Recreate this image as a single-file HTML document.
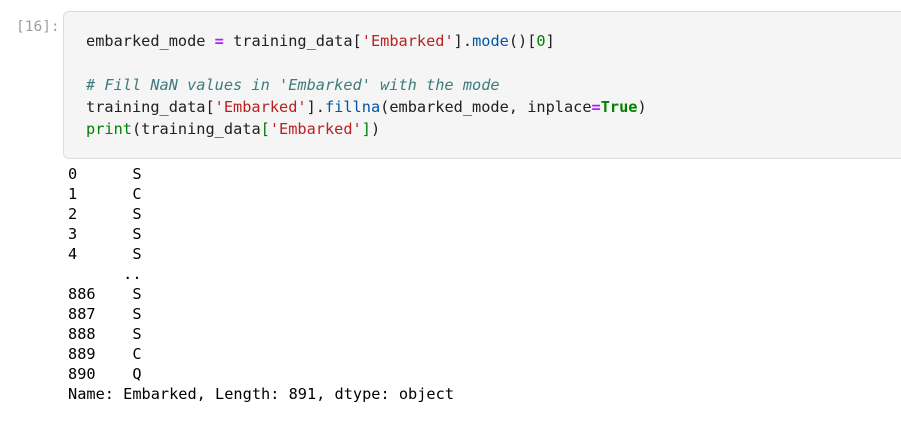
<!DOCTYPE html>
<html><head><style>
body{margin:0;width:901px;height:426px;background:#fff;overflow:hidden;position:relative;font-family:"DejaVu Sans Mono","Liberation Mono",monospace;font-size:15.28px;}
.p{position:absolute;left:16px;top:19px;color:#9e9e9e;font-size:14.5px;}
.cell{position:absolute;left:63px;top:11px;width:860px;height:146px;background:#f5f5f5;border:1px solid #dcdcdc;border-radius:6px;}
.code{position:absolute;left:86px;top:30px;line-height:22px;white-space:pre;color:#212121;}
.out{position:absolute;left:68px;top:164px;line-height:20px;white-space:pre;color:#000;}
.s{color:#ba2121}.o{color:#aa22ff;font-weight:bold}.c{color:#3d7b7b;font-style:italic}.f{color:#0055aa}.b{color:#008000}.k{color:#008000;font-weight:bold}.n{color:#008000}
</style></head><body>
<div class="p">[16]:</div>
<div class="cell"></div>
<div class="code">embarked_mode <span class="o">=</span> training_data[<span class="s">'Embarked'</span>].<span class="f">mode</span>()[<span class="n">0</span>]

<span class="c"># Fill NaN values in 'Embarked' with the mode</span>
training_data[<span class="s">'Embarked'</span>].<span class="f">fillna</span>(embarked_mode, inplace<span class="o">=</span><span class="k">True</span>)
<span class="b">print</span>(training_data<span class="b">[</span><span class="s">'Embarked'</span><span class="b">]</span>)</div>
<div class="out">0      S
1      C
2      S
3      S
4      S
      ..
886    S
887    S
888    S
889    C
890    Q
Name: Embarked, Length: 891, dtype: object</div>
</body></html>
